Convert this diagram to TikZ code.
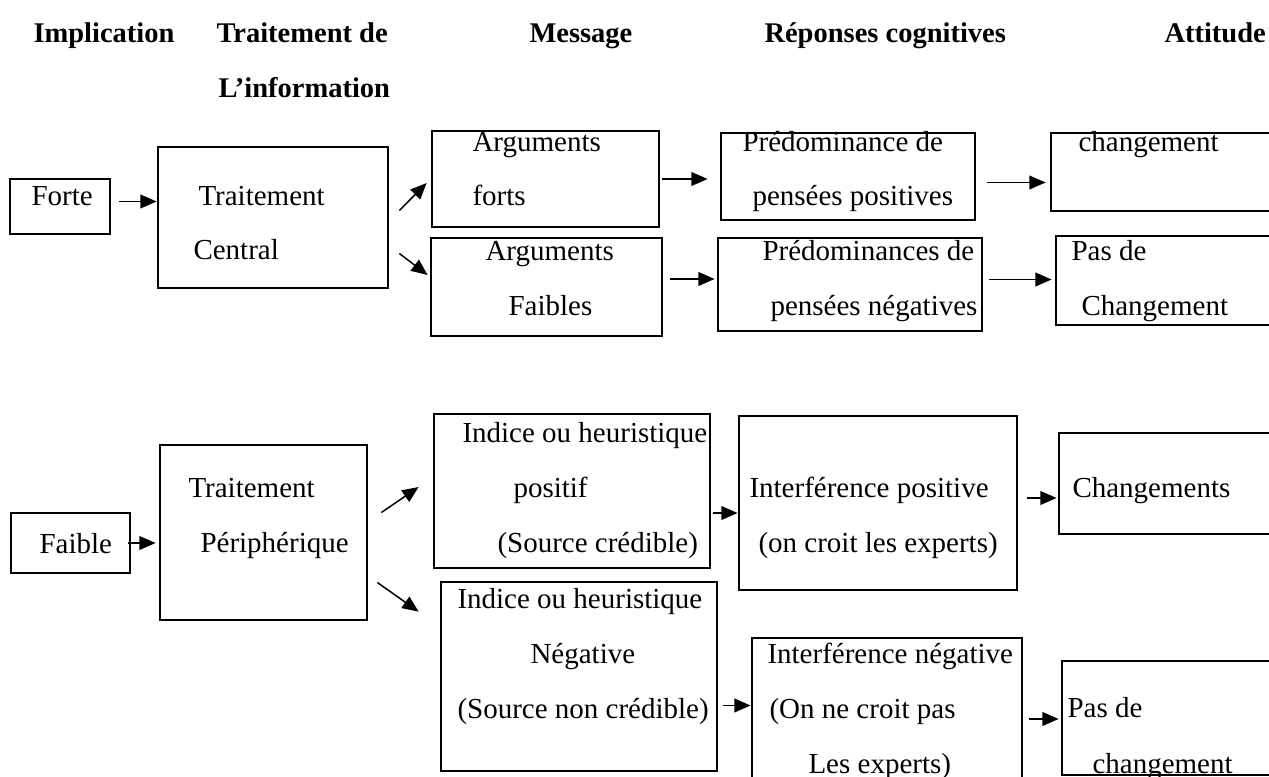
\documentclass[tikz,border=0pt]{standalone}
\usepackage{fontspec}
\setmainfont{Liberation Serif}
\usetikzlibrary{arrows.meta,positioning,fit,calc}
\newcommand{\txtsize}{\fontsize{11.6}{13.9}\selectfont}
\tikzset{
  bx/.style={draw, line width=1.1pt, inner sep=0pt},
  lbl/.style={anchor=base west, inner sep=0pt, font=\txtsize},
  hd/.style={lbl, font=\fontsize{11.4}{13.7}\selectfont\bfseries},
  ar/.style={-{Triangle[length=6.5pt,width=5.5pt]}, line width=0.6pt},
}

\begin{document}
\begin{tikzpicture}[x=0.4pt, y=-0.4pt]
  \useasboundingbox (0,0) rectangle (1269,776);
  \clip (0,0) rectangle (1269,776);

  % column headings
  \node[hd] (hImpl) at (33,42) {Implication};
  \node[hd] (hTrait) at (216,42) {Traitement de};
  \node[hd] (hInfo) at (218,97) {L’information};
  \node[hd] (hMsg) at (529,42) {Message};
  \node[hd] (hRep) at (764,42) {Réponses cognitives};
  \node[hd] (hAtt) at (1164,42) {Attitude};

  % central route
  \node[bx, fit={(10,179) (110,234)}] (forte) {};
  \node[lbl] (forteT) at (31,205) {Forte};
  \node[bx, fit={(158,147) (388,288)}] (central) {};
  \node[lbl] (centralT1) at (198,205) {Traitement};
  \node[lbl] (centralT2) at (193,259) {Central};
  \node[bx, fit={(432,131) (659,227)}] (argF) {};
  \node[lbl] (argFT1) at (472,151) {Arguments};
  \node[lbl] (argFT2) at (472,205) {forts};
  \node[bx, fit={(431,238) (662,336)}] (argW) {};
  \node[lbl] (argWT1) at (485,260) {Arguments};
  \node[lbl] (argWT2) at (508,315) {Faibles};
  \node[bx, fit={(721,133) (975,220)}] (penPos) {};
  \node[lbl] (penPosT1) at (742,151) {Prédominance de};
  \node[lbl] (penPosT2) at (752,205) {pensées positives};
  \node[bx, fit={(718,238) (982,331)}] (penNeg) {};
  \node[lbl] (penNegT1) at (762,260) {Prédominances de};
  \node[lbl] (penNegT2) at (770,315) {pensées négatives};
  \node[bx, fit={(1051,133) (1300,211)}] (chg) {};
  \node[lbl] (chgT) at (1078,151) {changement};
  \node[bx, fit={(1056,236) (1300,325)}] (noChg) {};
  \node[lbl] (noChgT1) at (1071,260) {Pas de};
  \node[lbl] (noChgT2) at (1081,315) {Changement};

  \draw[ar] (forte.east) ++(8,-5) coordinate (s1) -- (s1 -| central.west);
  \draw[ar] (central.east) ++(10,-7) -- ($(argF.west)+(-4,4)$);
  \draw[ar] (central.east) ++(10,36) -- ($(argW.west)+(-2,-12)$);
  \draw[ar] (argF.east) ++(2,0) coordinate (s2) -- ($(s2 -| penPos.west)+(-12,0)$);
  \draw[ar] (argW.east) ++(7,-8) coordinate (s3) -- ($(s3 -| penNeg.west)+(-2,0)$);
  \draw[ar] (penPos.east) ++(11,6) coordinate (s4) -- ($(s4 -| chg.west)+(-4,0)$);
  \draw[ar] (penNeg.east) ++(6,-5) coordinate (s5) -- ($(s5 -| noChg.west)+(-3,0)$);

  % peripheral route
  \node[bx, fit={(11,513) (130,573)}] (faible) {};
  \node[lbl] (faibleT) at (39,553) {Faible};
  \node[bx, fit={(160,445) (367,620)}] (periph) {};
  \node[lbl] (periphT1) at (188,497) {Traitement};
  \node[lbl] (periphT2) at (200,552) {Périphérique};
  \node[bx, fit={(434,414) (710,568)}] (cuePos) {};
  \node[lbl] (cuePosT1) at (462,442) {Indice ou heuristique};
  \node[lbl] (cuePosT2) at (513,497) {positif};
  \node[lbl] (cuePosT3) at (497,552) {(Source crédible)};
  \node[bx, fit={(441,582) (717,771)}] (cueNeg) {};
  \node[lbl] (cueNegT1) at (457,608) {Indice ou heuristique};
  \node[lbl] (cueNegT2) at (530,663) {Négative};
  \node[lbl] (cueNegT3) at (457,718) {(Source non crédible)};
  \node[bx, fit={(739,416) (1017,590)}] (infPos) {};
  \node[lbl] (infPosT1) at (749,497) {Interférence positive};
  \node[lbl] (infPosT2) at (758,552) {(on croit les experts)};
  \node[bx, fit={(752,638) (1022,800)}] (infNeg) {};
  \node[lbl] (infNegT1) at (767,663) {Interférence négative};
  \node[lbl] (infNegT2) at (769,718) {(On ne croit pas};
  \node[lbl] (infNegT3) at (808,773) {Les experts)};
  \node[bx, fit={(1059,433) (1300,534)}] (chgs) {};
  \node[lbl] (chgsT) at (1072,497) {Changements};
  \node[bx, fit={(1062,661) (1300,775)}] (noChg2) {};
  \node[lbl] (noChg2T1) at (1067,717) {Pas de};
  \node[lbl] (noChg2T2) at (1092,773) {changement};

  \draw[ar] (faible.east) ++(-3,0) coordinate (t1) -- ($(t1 -| periph.west)+(-3,0)$);
  \draw[ar] (periph.east) ++(13,-20) -- ($(cuePos.west)+(-14,-4)$);
  \draw[ar] (periph.east) ++(9,50) -- ($(cueNeg.north west)+(-21,31)$);
  \draw[ar] (cuePos.east) ++(2,22) coordinate (t2) -- (t2 -| infPos.west);
  \draw[ar] (cueNeg.east) ++(5,29) coordinate (t3) -- (t3 -| infNeg.west);
  \draw[ar] (infPos.east) ++(9,-5) coordinate (t4) -- ($(t4 -| chgs.west)+(-1,0)$);
  \draw[ar] (infNeg.east) ++(6,0) coordinate (t5) -- ($(t5 -| noChg2.west)+(-2,0)$);
\end{tikzpicture}
\end{document}
